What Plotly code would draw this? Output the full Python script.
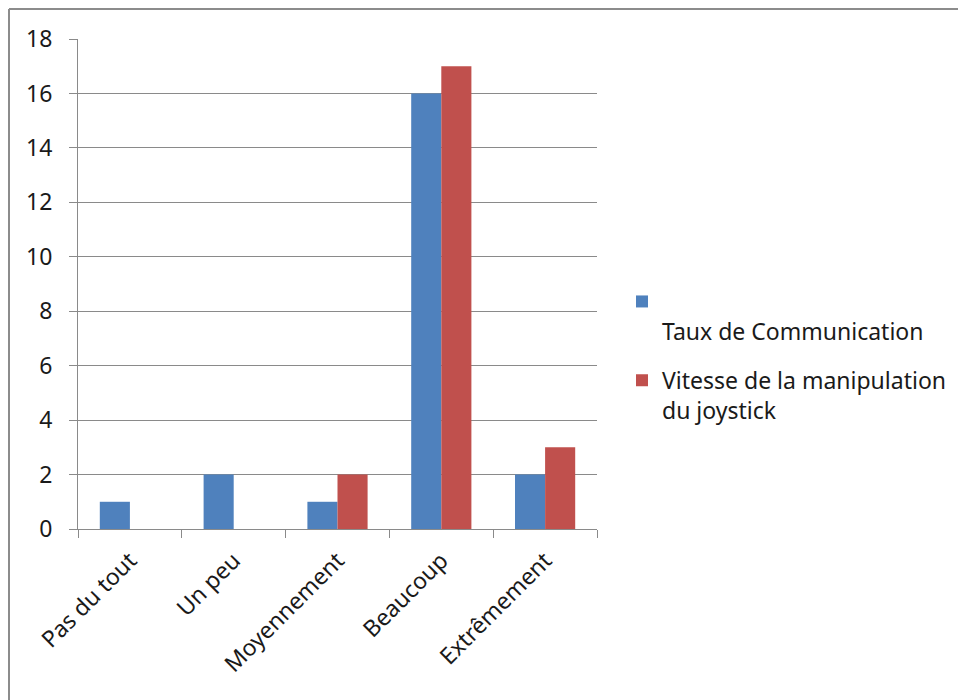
import plotly.graph_objects as go

categories = ["Pas du tout", "Un peu", "Moyennement", "Beaucoup", "Extrêmement"]
taux_communication = [1, 2, 1, 16, 2]
vitesse_joystick = [0, 0, 2, 17, 3]
y_ticks = [0, 2, 4, 6, 8, 10, 12, 14, 16, 18]

series_names = ["<br>Taux de Communication", "Vitesse de la manipulation<br>du joystick"]
series_colors = ["#4F81BD", "#C0504D"]

FONT = "Noto Sans"
FS = 23
GRAY = "#8A8A8A"
TXT = "#1a1a1a"

fig = go.Figure()
for i, (name, vals, col) in enumerate(zip(series_names, [taux_communication, vitesse_joystick], series_colors)):
    fig.add_trace(go.Bar(x=categories, y=vals, name=name, legendgroup="g%d" % i,
                         marker=dict(color=col, line=dict(width=0))))

# body margin is removed in the page, so figure pixels == page pixels
W, H = 958, 700
plot_left, plot_right, plot_top, plot_bottom = 78, 597, 39, 529
L, R, T, B = plot_left, W - plot_right, plot_top, H - plot_bottom
pw = W - L - R
ph = H - T - B


def px_x(x):
    return (x - L) / pw


def px_y(y):
    return (H - B - y) / ph


border = dict(color="#8C8C8C", width=2)

fig.update_layout(
    width=W, height=H,
    margin=dict(l=L, r=R, t=T, b=B, autoexpand=False),
    paper_bgcolor="white", plot_bgcolor="white",
    barmode="group", bargap=0.42, bargroupgap=0,
    font=dict(family=FONT, size=FS, color=TXT),
    showlegend=True,
    legend=dict(x=px_x(622), y=px_y(280), xanchor="left", yanchor="top",
                valign="top", font=dict(family=FONT, size=FS, color=TXT),
                tracegroupgap=16, bgcolor="rgba(0,0,0,0)"),
    xaxis=dict(showline=True, linecolor=GRAY, linewidth=1, ticks="outside", tickson="boundaries",
               ticklen=8, tickcolor=GRAY, tickangle=-45, showgrid=False, ticklabelstandoff=8,
               tickfont=dict(family=FONT, size=FS, color=TXT)),
    yaxis=dict(range=[0, 18], tickvals=y_ticks, showline=True, linecolor=GRAY, linewidth=1,
               ticks="outside", ticklen=8, tickcolor=GRAY, showgrid=True, gridcolor=GRAY,
               gridwidth=1, zeroline=False, ticklabelstandoff=12,
               tickfont=dict(family=FONT, size=FS, color=TXT)),
    shapes=[
        dict(type="line", xref="paper", yref="paper", x0=px_x(9), x1=px_x(9),
             y0=px_y(9), y1=px_y(720), line=border, layer="below"),
        dict(type="line", xref="paper", yref="paper", x0=px_x(9), x1=px_x(990),
             y0=px_y(9), y1=px_y(9), line=border, layer="below"),
    ],
)

fig.write_html(
    "out.html",
    config={"displayModeBar": False},
    post_script="document.body.style.margin='0';document.body.style.overflow='hidden';",
)
